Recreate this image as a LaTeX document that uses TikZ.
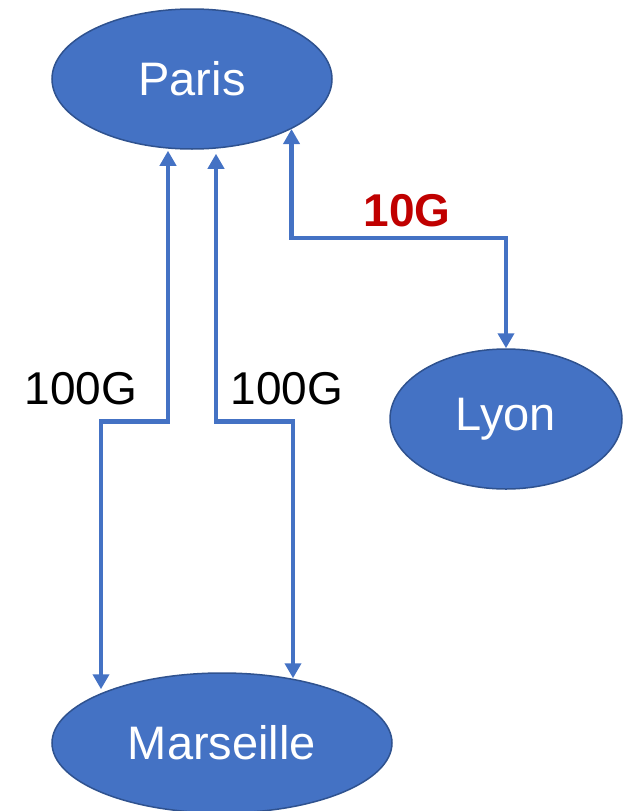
\documentclass[tikz,border=0pt]{standalone}
\usepackage{fontspec}
\setmainfont{Liberation Sans}
\usetikzlibrary{shapes.geometric,arrows.meta,calc}
\definecolor{cityblue}{HTML}{4472C4}
\definecolor{cityedge}{HTML}{2F528F}
\definecolor{ratered}{HTML}{C00000}

\begin{document}
\begin{tikzpicture}[x=1pt,y=-1pt,
  city/.style={ellipse,fill=cityblue,draw=cityedge,line width=1.5pt,text=white,
    inner sep=0pt,minimum height=140pt,font=\fontsize{47}{52}\selectfont},
  link/.style={draw=cityblue,line width=4.8pt,
    {Triangle[width=16pt,length=15pt]}-{Triangle[width=16pt,length=15pt]}},
  rate/.style={font=\fontsize{46}{52}\selectfont}]
  \useasboundingbox (0,0) rectangle (622,811);
% Cities
  \node[city,minimum width=280pt] (paris) at (192,79) {Paris};
  \node[city,minimum width=232pt] (lyon) at (506,419) {Lyon};
  \node[city,minimum width=340pt] (marseille) at (222,743) {Marseille};
% Links
  \draw[link] ($(paris.south)+(-24,1)$) -- ++(0,271) -| ($(marseille.north)+(-121,17)$);
  \draw[link] ($(paris.south)+(24,4)$) -- ++(0,268) -| ($(marseille.north)+(71,6)$);
  \draw[link] (paris.south east) -- ++(0,109) -| (lyon.north);
% Rates
  \node[rate] (r1) at (81,389) {100G};
  \node[rate] (r2) at (287,389) {100G};
  \node[rate,text=ratered,font=\fontsize{46}{52}\selectfont\bfseries] (r3) at (407,211) {10G};
\end{tikzpicture}
\end{document}
